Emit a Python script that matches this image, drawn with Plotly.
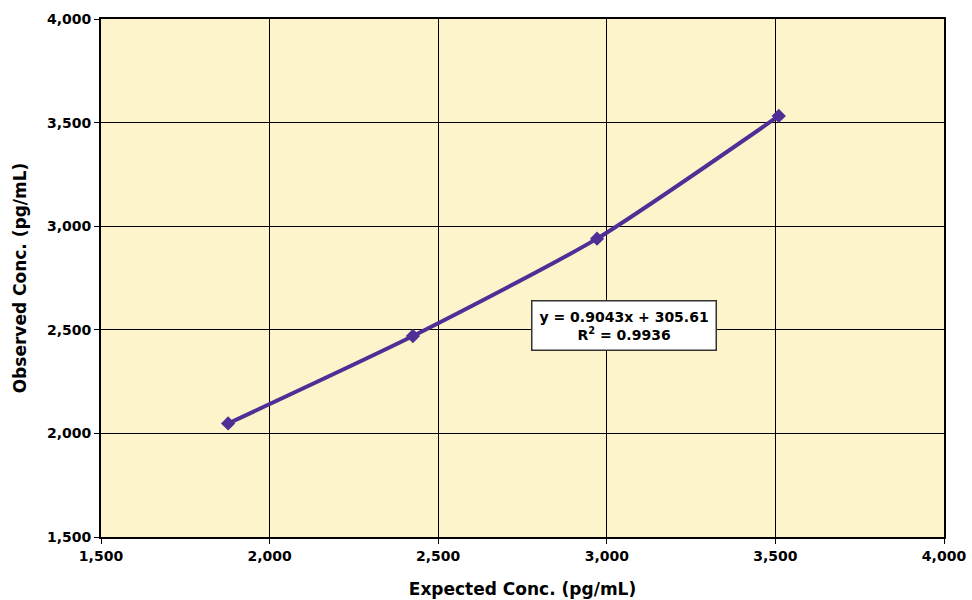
import plotly.graph_objects as go

expected = [1877, 2425, 2971, 3510]
observed = [2048, 2470, 2940, 3532]
x_ticks = [1500, 2000, 2500, 3000, 3500, 4000]
y_ticks = [1500, 2000, 2500, 3000, 3500, 4000]
eq_text = "y = 0.9043x + 305.61<br>R<sup>2</sup> = 0.9936"

FONT = "DejaVu Sans"
fig = go.Figure()
fig.add_trace(go.Scatter(
    x=expected, y=observed, mode="lines+markers",
    line=dict(color="#4F2E96", width=4, shape="spline", smoothing=0.6),
    marker=dict(symbol="diamond", size=11, color="#4F2E96"),
    showlegend=False,
))
fig.add_annotation(
    x=3051, y=2523, xref="x", yref="y", text=eq_text, showarrow=False,
    font=dict(family=FONT, size=14, color="black", weight="bold"),
    bgcolor="white", bordercolor="#333333", borderwidth=1.5, borderpad=7,
    align="center",
)
axis_common = dict(
    showline=True, linecolor="black", linewidth=2, mirror=True,
    showgrid=True, gridcolor="black", gridwidth=1,
    ticks="outside", ticklen=5, tickcolor="black",
    tickfont=dict(family=FONT, size=14, color="black", weight="bold"),
    tickformat=",d", zeroline=False,
)
fig.update_xaxes(range=[1500, 4000], tickvals=x_ticks, **axis_common,
                 title=dict(text="Expected Conc. (pg/mL)", standoff=20,
                            font=dict(family=FONT, size=17, color="black", weight="bold")))
fig.update_yaxes(range=[1500, 4000], tickvals=y_ticks, **axis_common,
                 title=dict(text="Observed Conc. (pg/mL)", standoff=16,
                            font=dict(family=FONT, size=17, color="black", weight="bold")))
fig.update_layout(
    width=972, height=600,
    margin=dict(l=101, r=28, t=19, b=63, autoexpand=False),
    plot_bgcolor="#FEF4CB", paper_bgcolor="white",
)
fig.write_html("out.html", config={"displayModeBar": False},
               post_script="document.body.style.margin='0';")
